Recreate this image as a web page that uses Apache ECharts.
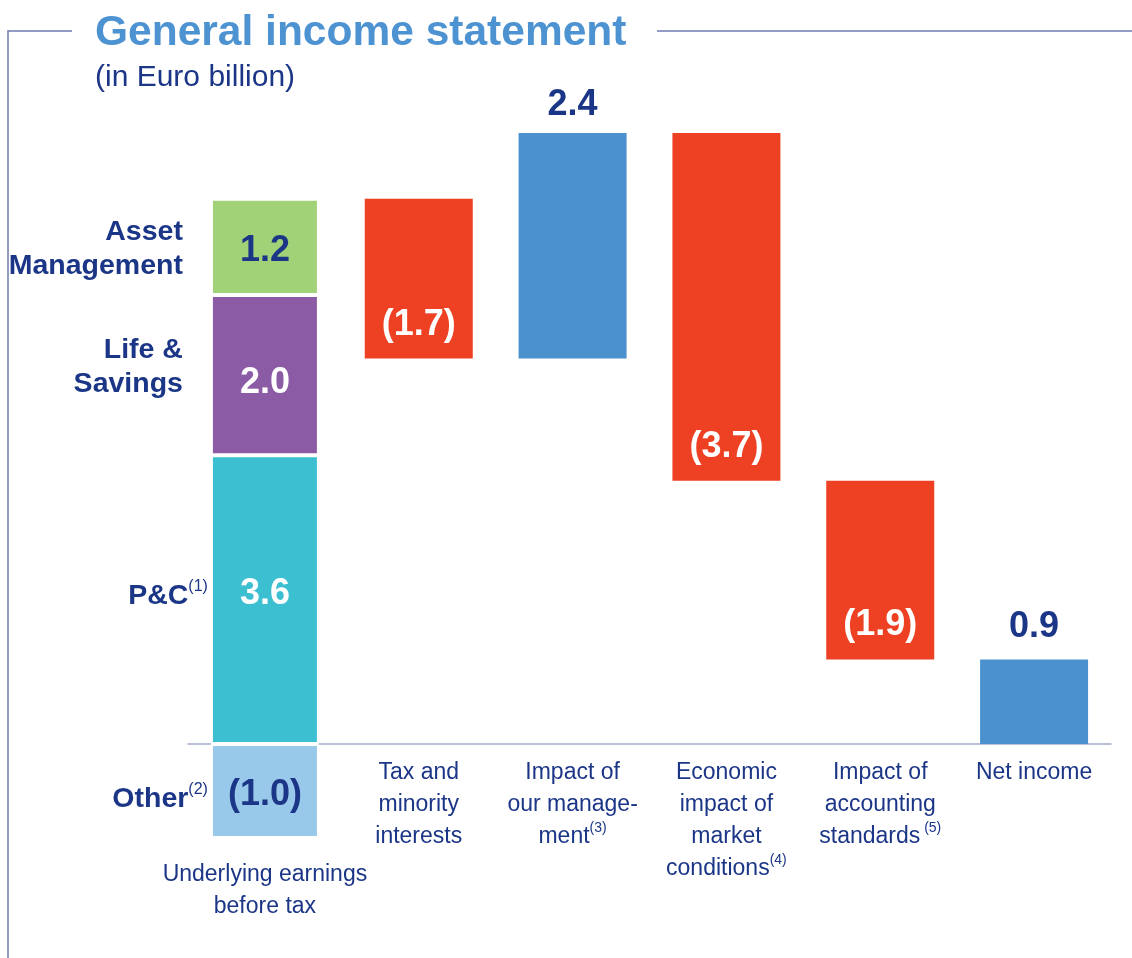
<!DOCTYPE html>
<html>
<head>
<meta charset="utf-8">
<script src="https://cdn.jsdelivr.net/npm/echarts@6/dist/echarts.min.js"></script>
<style>
  html, body { margin: 0; padding: 0; background: #fff; }
  #main { width: 1132px; height: 958px; }
</style>
</head>
<body>
<div id="main"></div>
<script>
// categories along the bottom
const categories = ['Underlying earnings\nbefore tax', 'Tax and\nminority\ninterests', 'Impact of\nour manage-\nment', 'Economic\nimpact of\nmarket\nconditions', 'Impact of\naccounting\nstandards', 'Net income'];
const catNotes = ['', '', '(3)', '(4)', ' (5)', ''];

// first bar, split by business (bottom to top)
const segNames = ['Other', 'P&C', 'Life &\nSavings', 'Asset\nManagement'];
const segNotes = ['(2)', '(1)', '', ''];
const segValues = [-1.0, 3.6, 2.0, 1.2];

// waterfall steps after underlying earnings
const steps = [-1.7, 2.4, -3.7, -1.9];
const netIncome = 0.9;

const navy = '#1b3687';
const segColors = ['#98c9eb', '#3bbfd1', '#8c5ba5', '#a2d277'];
const segText = [navy, '#fff', '#fff', navy];
const valueOffsets = [[0, 4], [0, -6], [0, 8], [0, 4]];
const nameOffsets = [[0, 8], [0, -4], [0, -8], [0, 2]];
const red = '#ee4123';
const blue = '#4a91cd';
const fontMain = '"Liberation Sans", Arial, sans-serif';

function fmt(v) {
  return v < 0 ? '(' + Math.abs(v).toFixed(1) + ')' : v.toFixed(1);
}

// the stack above zero is drawn to the height of the underlying total
const underlying = segValues.reduce((a, b) => a + b, 0);
const posSum = segValues.filter(v => v > 0).reduce((a, b) => a + b, 0);
const k = underlying / posSum;

const base = [0];
const change = ['-'];
let running = underlying;
steps.forEach(function (s) {
  base.push(s < 0 ? running + s : running);
  change.push({
    value: Math.abs(s),
    itemStyle: { color: s < 0 ? red : blue },
    label: s < 0
      ? { show: true, position: 'insideBottom', distance: 16, formatter: fmt(s), color: '#fff' }
      : { show: true, position: 'top', distance: 10, formatter: fmt(s), color: navy }
  });
  running += s;
});
base.push(0);
change.push({
  value: netIncome,
  itemStyle: { color: blue },
  label: { show: true, position: 'top', distance: 14, formatter: fmt(netIncome), color: navy }
});

const series = [{
  type: 'bar', stack: 'w', barWidth: 108, barGap: '-100%', silent: true,
  itemStyle: { color: 'transparent' }, data: base
}];

segValues.forEach(function (v, i) {
  const h = v > 0 ? v * k : v;
  const data = categories.map(() => '-');
  data[0] = {
    value: h,
    label: {
      show: true, position: 'inside', formatter: fmt(v), color: segText[i],
      offset: valueOffsets[i]
    }
  };
  series.push({
    type: 'bar', stack: 'w', barWidth: 108, barGap: '-100%', name: segNames[i],
    itemStyle: { color: segColors[i], borderColor: '#fff', borderWidth: 2 },
    label: { fontFamily: fontMain, fontWeight: 'bold', fontSize: 36 },
    data: data
  });
  // name on the left of the segment
  const nameData = categories.map(() => '-');
  const txt = segNames[i].split('\n').map(l => '{n|' + l + '}');
  if (segNotes[i]) txt[txt.length - 1] += '{sup|' + segNotes[i] + '}';
  nameData[0] = {
    value: h,
    label: { show: true, position: 'left', distance: segNotes[i] ? 3 : 28, offset: nameOffsets[i], formatter: txt.join('\n') }
  };
  series.push({
    type: 'bar', stack: 'n', barWidth: 108, barGap: '-100%', silent: true,
    itemStyle: { color: 'transparent' },
    label: {
      align: 'right',
      rich: {
        n: { fontFamily: fontMain, fontWeight: 'bold', fontSize: 28.5, lineHeight: 34, color: navy },
        sup: { fontFamily: fontMain, fontSize: 16, lineHeight: 34, color: navy, verticalAlign: 'top', padding: [0, 0, 12, 0] }
      }
    },
    data: nameData
  });
});

series.push({
  type: 'bar', stack: 'w', barWidth: 108, barGap: '-100%',
  label: { fontFamily: fontMain, fontWeight: 'bold', fontSize: 36 },
  data: change
});

const chart = echarts.init(document.getElementById('main'));
chart.setOption({
  animation: false,
  title: {
    text: 'General income statement',
    subtext: '(in Euro billion)',
    left: 90, top: 7, itemGap: 8,
    textStyle: { fontFamily: fontMain, fontWeight: 'bold', fontSize: 42.5, color: '#4d93d2' },
    subtextStyle: { fontFamily: fontMain, fontSize: 30, color: navy }
  },
  grid: { left: 188, right: 21, top: 133, bottom: 73, containLabel: false, outerBoundsMode: 'none' },
  xAxis: {
    type: 'category',
    data: categories,
    axisTick: { show: false },
    axisLine: { lineStyle: { color: '#a4adc9', width: 1.5 } },
    axisLabel: {
      interval: 0, margin: -128,
      formatter: function (value, idx) {
        const lines = value.split('\n').map(l => '{c|' + l + '}');
        if (catNotes[idx]) lines[lines.length - 1] += '{sup|' + catNotes[idx] + '}';
        if (idx === 0) lines.unshift('{gap| }');
        return lines.join('\n');
      },
      rich: {
        c: { fontFamily: fontMain, fontSize: 23, lineHeight: 32, color: navy },
        sup: { fontFamily: fontMain, fontSize: 14, lineHeight: 32, color: navy, verticalAlign: 'top', padding: [0, 0, 10, 0] },
        gap: { fontSize: 10, lineHeight: 102 }
      }
    }
  },
  yAxis: {
    type: 'value', min: -1.5, max: 6.5, show: false, splitLine: { show: false }
  },
  graphic: [
    { type: 'polyline', silent: true, shape: { points: [[72, 31], [8, 31], [8, 958]] }, style: { stroke: '#6f7bb0', lineWidth: 1.5, fill: null } },
    { type: 'line', silent: true, shape: { x1: 657, y1: 31, x2: 1132, y2: 31 }, style: { stroke: '#6f7bb0', lineWidth: 1.5 } }
  ],
  series: series
});
</script>
</body>
</html>
